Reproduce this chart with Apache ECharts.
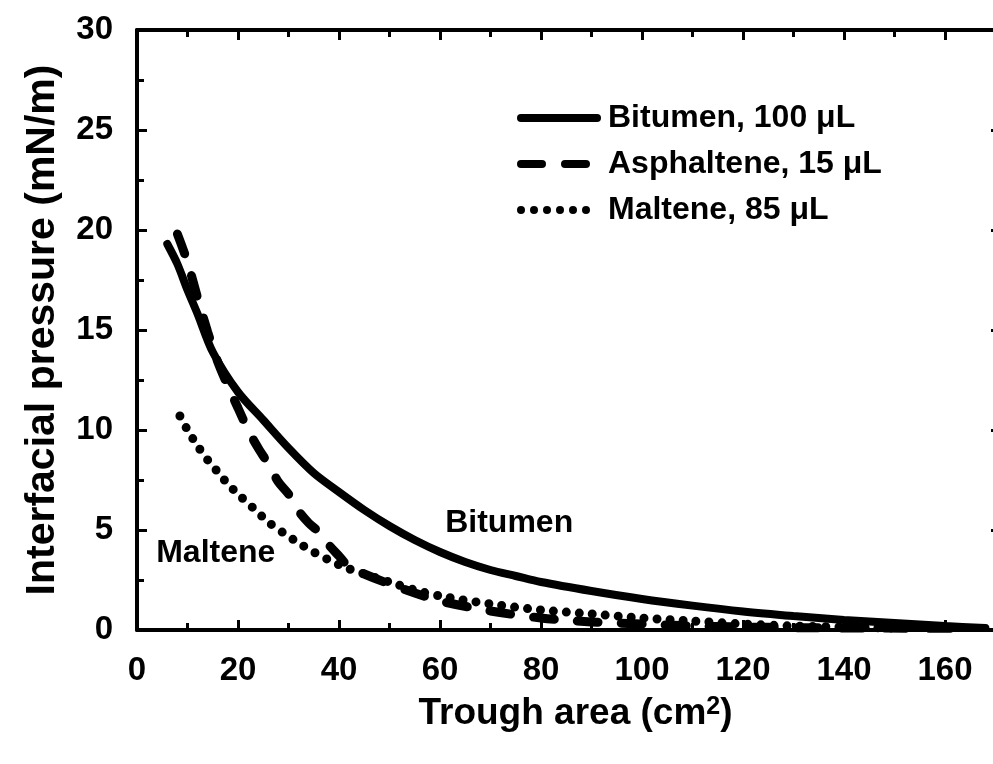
<!DOCTYPE html>
<html><head><meta charset="utf-8">
<script src="https://cdn.jsdelivr.net/npm/echarts@6/dist/echarts.min.js"></script>
<style>html,body{margin:0;padding:0;background:#fff}#c{width:993px;height:764px}</style>
</head><body><div id="c"></div>
<script>
const seriesNames = ['Bitumen, 100 μL', 'Asphaltene, 15 μL', 'Maltene, 85 μL'];
const bitumenX = [6, 8, 10, 12, 15, 20, 25, 30, 35, 40, 45, 50, 55, 60, 65, 70, 75, 80, 90, 100, 110, 120, 130, 140, 150, 160, 168];
const bitumenY = [19.3, 18.3, 17.0, 15.8, 13.9, 11.9, 10.5, 9.1, 7.85, 6.9, 6.0, 5.2, 4.5, 3.9, 3.4, 3.0, 2.7, 2.4, 1.95, 1.55, 1.22, 0.93, 0.7, 0.5, 0.35, 0.2, 0.1];
const asphaltX = [8, 10, 12, 14, 16, 18, 20, 22, 24, 26, 28, 30, 32, 34, 36, 38, 40, 42, 45, 50, 55, 60, 70, 80, 90, 100, 110, 120, 130, 145, 165];
const asphaltY = [19.8, 18.4, 16.6, 14.9, 13.4, 12.2, 11.1, 10.0, 9.1, 8.3, 7.4, 6.8, 5.95, 5.35, 4.9, 4.25, 3.7, 3.15, 2.8, 2.3, 1.85, 1.45, 0.95, 0.6, 0.4, 0.3, 0.2, 0.15, 0.12, 0.1, 0.08];
const maltX = [8.5, 10, 12, 14, 16, 18, 20, 23, 26, 29, 32, 35, 38, 41, 45, 50, 55, 60, 70, 80, 90, 100, 110, 120, 130, 150];
const maltY = [10.7, 10.0, 9.2, 8.5, 7.9, 7.3, 6.8, 6.1, 5.4, 4.85, 4.35, 3.9, 3.5, 3.15, 2.8, 2.4, 2.0, 1.7, 1.3, 1.0, 0.8, 0.6, 0.45, 0.3, 0.2, 0.1];
const xTicks = [0, 20, 40, 60, 80, 100, 120, 140, 160];
const yTicks = [0, 5, 10, 15, 20, 25, 30];
const annotations = [
  { text: 'Bitumen', x: 73.7, y: 5.35 },
  { text: 'Maltene', x: 15.6, y: 3.85 }
];

const FONT = '"Liberation Sans", Arial, Helvetica, sans-serif';
const zip = (xs, ys) => xs.map((x, i) => [x, ys[i]]);

const chart = echarts.init(document.getElementById('c'), null, { renderer: 'canvas' });

const axisLineStyle = { show: true, onZero: false, lineStyle: { color: '#000', width: 4 } };
const tickCommon = { show: true, inside: true, length: 10, lineStyle: { color: '#000', width: 3 } };
const minorCommon = { show: true, splitNumber: 2, length: 7, lineStyle: { color: '#000', width: 3 } };

chart.setOption({
  animation: false,
  backgroundColor: '#fff',
  grid: { left: 137, top: 30, bottom: 134, right: -53, containLabel: false, outerBoundsMode: 'none' },
  legend: {
    orient: 'vertical', left: 512, top: 97, itemWidth: 76, itemHeight: 12, itemGap: 14,
    data: seriesNames,
    lineStyle: { width: 8 },
    itemStyle: { opacity: 0 },
    textStyle: { fontSize: 32, fontWeight: 'bold', fontFamily: FONT, color: '#000', padding: [0, 0, 0, 6] }
  },
  xAxis: [
    {
      type: 'value', position: 'bottom', min: 0, max: 180, interval: 20,
      axisLine: axisLineStyle, axisTick: tickCommon, minorTick: minorCommon, splitLine: { show: false },
      axisLabel: {
        margin: 24, fontSize: 33, fontWeight: 'bold', fontFamily: FONT, color: '#000',
        showMaxLabel: false,
        formatter: v => (xTicks.indexOf(v) >= 0 ? String(v) : '')
      },
      name: '{a|Trough area (cm}{s|2}{a|)}', nameLocation: 'middle', nameGap: 65,
      nameTextStyle: {
        padding: [0, 32, 0, 0],
        rich: {
          a: { fontSize: 37, fontWeight: 'bold', fontFamily: FONT, color: '#000' },
          s: { fontSize: 25, fontWeight: 'bold', fontFamily: FONT, color: '#000', verticalAlign: 'top' }
        }
      }
    },
    {
      type: 'value', position: 'top', min: 0, max: 180, interval: 20,
      axisLine: axisLineStyle, axisTick: tickCommon, minorTick: minorCommon, splitLine: { show: false },
      axisLabel: { show: false }
    }
  ],
  yAxis: [
    {
      type: 'value', position: 'left', min: 0, max: 30, interval: 5,
      axisLine: axisLineStyle, axisTick: tickCommon, minorTick: minorCommon, splitLine: { show: false },
      axisLabel: {
        margin: 24, fontSize: 33, fontWeight: 'bold', fontFamily: FONT, color: '#000',
        formatter: v => (yTicks.indexOf(v) >= 0 ? String(v) : '')
      },
      name: 'Interfacial pressure (mN/m)', nameLocation: 'middle', nameGap: 74,
      nameTextStyle: { fontSize: 41, fontWeight: 'bold', fontFamily: FONT, color: '#000' }
    },
    {
      type: 'value', position: 'right', offset: -44, min: 0, max: 30, interval: 5,
      axisLine: axisLineStyle,
      axisTick: { show: true, inside: true, length: 11, lineStyle: { color: '#000', width: 3 } },
      minorTick: { show: true, splitNumber: 2, length: 8, lineStyle: { color: '#000', width: 3 } },
      splitLine: { show: false },
      axisLabel: { show: false }
    }
  ],
  series: [
    {
      name: seriesNames[0], type: 'line', data: zip(bitumenX, bitumenY), smooth: 0.3,
      symbol: 'none', lineStyle: { color: '#000', width: 8, cap: 'round' },
      markPoint: {
        symbol: 'rect', symbolSize: 1, itemStyle: { color: 'rgba(0,0,0,0)' },
        label: { show: true, position: 'inside', color: '#000', fontSize: 32, fontWeight: 'bold', fontFamily: FONT, formatter: p => p.name },
        data: annotations.map(a => ({ name: a.text, coord: [a.x, a.y] }))
      }
    },
    {
      name: seriesNames[1], type: 'line', data: zip(asphaltX, asphaltY), smooth: 0.3,
      symbol: 'none', lineStyle: { color: '#000', width: 9, type: [21, 23], cap: 'round' }
    },
    {
      name: seriesNames[2], type: 'line', data: zip(maltX, maltY), smooth: 0.3,
      symbol: 'none', lineStyle: { color: '#000', width: 9, type: [0, 13], cap: 'round' }
    }
  ]
});
</script>
</body></html>
